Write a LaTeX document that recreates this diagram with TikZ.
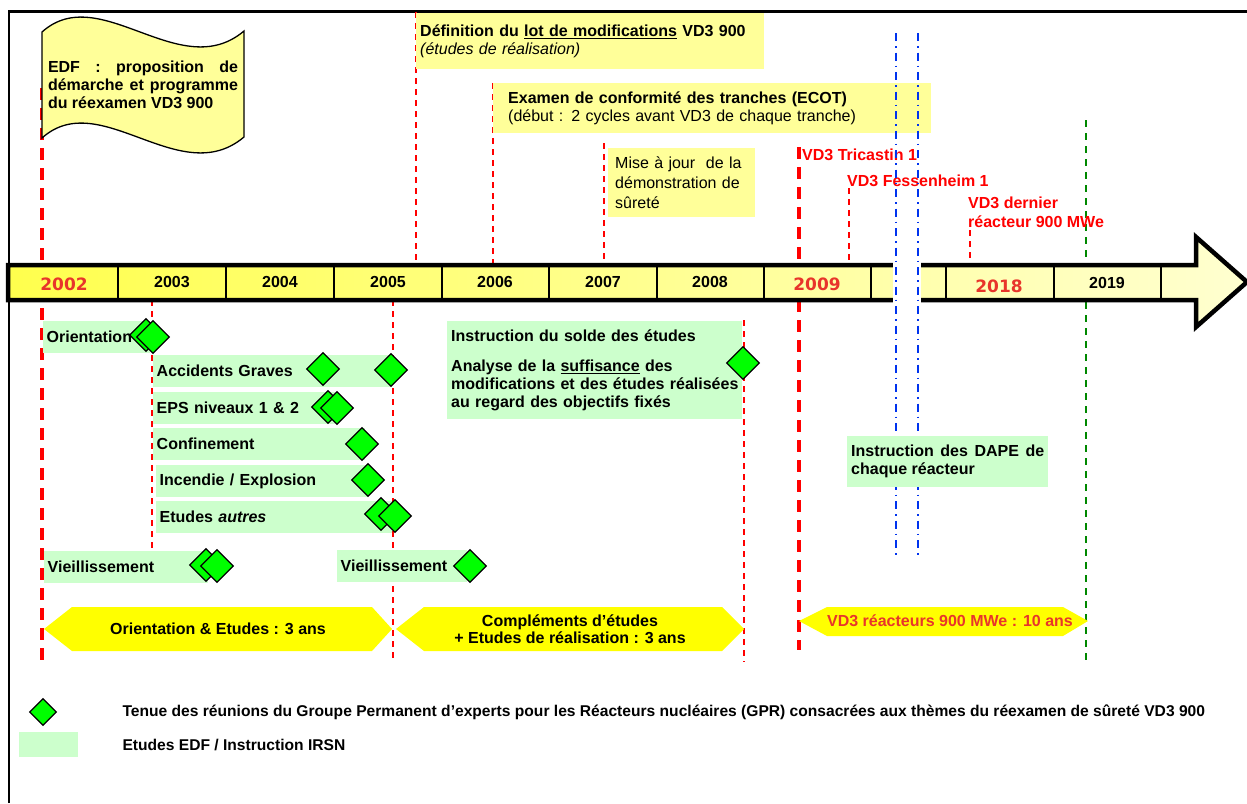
\documentclass[tikz,border=0pt]{standalone}
\usepackage{fontspec}
\setmainfont{Liberation Sans}
\newfontfamily\yearfont{DejaVu Sans}
\usetikzlibrary{shapes.geometric}
\definecolor{flagyellow}{HTML}{FFFF99}
\definecolor{studygreen}{HTML}{CCFFCC}
\definecolor{gprgreen}{HTML}{00FF00}
\definecolor{phaseyellow}{HTML}{FFFF00}
\definecolor{vdred}{HTML}{FF0000}
\definecolor{yearred}{HTML}{E8352B}
\definecolor{dapeblue}{HTML}{0033EE}
\definecolor{endgreen}{HTML}{008800}
\definecolor{barleft}{HTML}{FFFF4D}
\definecolor{barright}{HTML}{FFFFD0}

\begin{document}
\begin{tikzpicture}[x=1pt,y=-1pt,
  every node/.style={font=\fontsize{16}{18}\selectfont},
  bold/.style={font=\bfseries\fontsize{16}{18}\selectfont},
  ybox/.style={fill=flagyellow, anchor=north west, align=left, inner ysep=0pt},
  gbox/.style={fill=studygreen, anchor=west, minimum height=32pt, align=left,
    inner xsep=3.5pt, text width=#1, bold},
  gpr/.style={diamond, draw, fill=gprgreen, line width=1.2pt,
    minimum width=33pt, minimum height=33pt, inner sep=0pt},
  reddash/.style={vdred, line width=1.8pt, dash pattern=on 6pt off 5pt},
  bigdash/.style={vdred, line width=3.2pt, dash pattern=on 12pt off 8pt},
  yr/.style={font=\bfseries\fontsize{16}{18}\selectfont},
  ryr/.style={text=yearred, font=\yearfont\bfseries\fontsize{17}{18}\selectfont},
  vdlbl/.style={text=vdred, anchor=west, inner sep=1pt, bold},
  legtxt/.style={anchor=west, font=\bfseries\fontsize{15.6}{18}\selectfont}]
\useasboundingbox (0,0) rectangle (1247,803);

% frame
\draw[line width=2.2pt] (9,803) -- (9,11.5) -- (1247,11.5);

% milestone lines
\draw[bigdash] (42,88) -- (42,660);
\draw[bigdash] (799,147) -- (799,265);
\draw[bigdash] (799,300) -- (799,650);
\draw[reddash] (416,12) -- (416,265);
\draw[reddash] (493,83) -- (493,265);
\draw[reddash] (604,143) -- (604,265);
\draw[reddash] (849,188) -- (849,265);
\draw[reddash] (970,230) -- (970,265);
\draw[reddash] (152,300) -- (152,552);
\draw[reddash] (393,300) -- (393,658);
\draw[reddash] (744,320) -- (744,662);
\draw[endgreen, line width=2.2pt, dash pattern=on 7pt off 6pt] (1086,120) -- (1086,662);

% flag
\draw[fill=flagyellow, line width=1.3pt] (42,32) .. controls (100,-20) and (180,85) .. (244,31)
  -- (244,137) .. controls (180,191) and (100,86) .. (42,138) -- cycle;
\node[bold, text width=190pt, align=justify] (edf) at (143,85)
  {EDF : proposition de\linebreak démarche et programme\linebreak du réexamen VD3 900};

% top boxes
\node[ybox, text width=340pt, inner xsep=4pt, minimum height=56pt] (deflot) at (416,13)
  {\textbf{Définition du \underline{lot de modifications} VD3 900}\\\textit{(études de réalisation)}};
\node[ybox, text width=408pt, inner xsep=15pt, minimum height=50pt] (ecot) at (493,83)
  {\textbf{Examen de conformité des tranches (ECOT)}\\(début : 2 cycles avant VD3 de chaque tranche)};
\node[ybox, text width=133pt, inner xsep=7pt, minimum height=69pt,
  font=\fontsize{16}{20}\selectfont] (majds) at (608,148)
  {Mise à jour~ de la\\démonstration de\\sûreté};

% reactor labels
\node[vdlbl] (tric) at (801,155) {VD3 Tricastin 1};
\node[vdlbl] (fess) at (846,181) {VD3 Fessenheim 1};
\node[vdlbl, align=left, font=\bfseries\fontsize{16}{19}\selectfont] (dern) at (967,212)
  {VD3 dernier\\réacteur 900 MWe};

% time bar
\draw[line width=4.5pt, left color=barleft, right color=barright]
  (8,265) -- (1196,265) -- (1196,237) -- (1247,282) -- (1196,327) -- (1196,300) -- (8,300) -- cycle;
\draw[line width=2pt] (118,265) -- (118,300) (226,265) -- (226,300) (334,265) -- (334,300)
  (442,265) -- (442,300) (549,265) -- (549,300) (657,265) -- (657,300) (764,265) -- (764,300)
  (871,265) -- (871,300) (946,265) -- (946,300) (1054,265) -- (1054,300) (1161,265) -- (1161,300);
\fill[white] (893,258) rectangle (921,308);
\node[ryr] (y2002) at (64,284) {2002};
\node[yr] (y2003) at (172,282) {2003};
\node[yr] (y2004) at (280,282) {2004};
\node[yr] (y2005) at (388,282) {2005};
\node[yr] (y2006) at (495,282) {2006};
\node[yr] (y2007) at (603,282) {2007};
\node[yr] (y2008) at (710,282) {2008};
\node[ryr] (y2009) at (817,284) {2009};
\node[ryr] (y2018) at (999,286) {2018};
\node[yr] (y2019) at (1107,283) {2019};

% DAPE lines
\draw[dapeblue, line width=1.8pt, dash pattern=on 8pt off 5pt on 1.5pt off 5pt] (896,33) -- (896,555);
\draw[dapeblue, line width=1.8pt, dash pattern=on 8pt off 5pt on 1.5pt off 5pt] (918,33) -- (918,555);

% studies
\node[gbox=100pt] (orient) at (43,337) {Orientation};
\node[gbox=232pt] (accid) at (153,371) {Accidents Graves};
\node[gbox=175pt] (eps) at (153,408) {EPS niveaux 1 \& 2};
\node[gbox=205pt] (confin) at (153,444) {Confinement};
\node[gbox=205pt] (incend) at (156,481) {Incendie / Explosion};
\node[gbox=229pt] (autres) at (156,517) {Etudes \textit{autres}};
\node[gbox=157pt] (vieil1) at (44,567) {Vieillissement};
\node[gbox=123pt] (vieil2) at (337,566) {Vieillissement};
\node[fill=studygreen, anchor=north west, text width=291pt, inner xsep=2pt,
  minimum height=98pt, align=left, bold] (solde) at (447,321)
  {\hspace*{2pt}Instruction du solde des études\\[12pt]\hspace*{2pt}Analyse de la \underline{suffisance} des\\
   \hspace*{2pt}\mbox{modifications et des études réalisées}\\\hspace*{2pt}au regard des objectifs fixés};
\node[fill=studygreen, anchor=north west, text width=193pt, inner xsep=4pt,
  minimum height=51pt, align=justify, bold] (dape) at (847,436)
  {Instruction des DAPE de\linebreak chaque réacteur};

% GPR meetings
\node[gpr] (g1a) at (146,335) {};
\node[gpr] (g1b) at (153,337) {};
\node[gpr] (g2a) at (323,369) {};
\node[gpr] (g2b) at (391,370) {};
\node[gpr] (g3a) at (328,407) {};
\node[gpr] (g3b) at (337,408) {};
\node[gpr] (g4) at (362,444) {};
\node[gpr] (g5) at (368,480) {};
\node[gpr] (g6a) at (381,514) {};
\node[gpr] (g6b) at (395,516) {};
\node[gpr] (g7a) at (206,565) {};
\node[gpr] (g7b) at (217,566) {};
\node[gpr] (g8) at (470,566) {};
\node[gpr] (g9) at (743,363) {};

% phases
\fill[phaseyellow] (44,629) -- (72,607) -- (372,607) -- (392,629) -- (372,651) -- (72,651) -- cycle;
\node[bold] (ph1) at (218,629) {Orientation \& Etudes : 3 ans};
\fill[phaseyellow] (396,629) -- (424,607) -- (722,607) -- (744,629) -- (722,651) -- (424,651) -- cycle;
\node[align=center, font=\bfseries\fontsize{16}{17}\selectfont] (ph2) at (570,629)
  {Compléments d’études\\+ Etudes de réalisation : 3 ans};
\fill[phaseyellow] (799,621) -- (827,607) -- (1063,607) -- (1088,621) -- (1063,636) -- (827,636) -- cycle;
\node[bold, text=yearred] (ph3) at (950,621) {VD3 réacteurs 900 MWe : 10 ans};

% legend
\node[gpr, minimum width=27pt, minimum height=27pt] (legd) at (43,712) {};
\node[legtxt] (legdtxt) at (119,712)
  {Tenue des réunions du Groupe Permanent d’experts pour les Réacteurs nucléaires (GPR) consacrées aux thèmes du réexamen de sûreté VD3 900};
\node[fill=studygreen, minimum width=59pt, minimum height=25pt, inner sep=0pt] (legg) at (48.5,744.5) {};
\node[legtxt] (leggtxt) at (119,745) {Etudes EDF / Instruction IRSN};
\end{tikzpicture}
\end{document}
